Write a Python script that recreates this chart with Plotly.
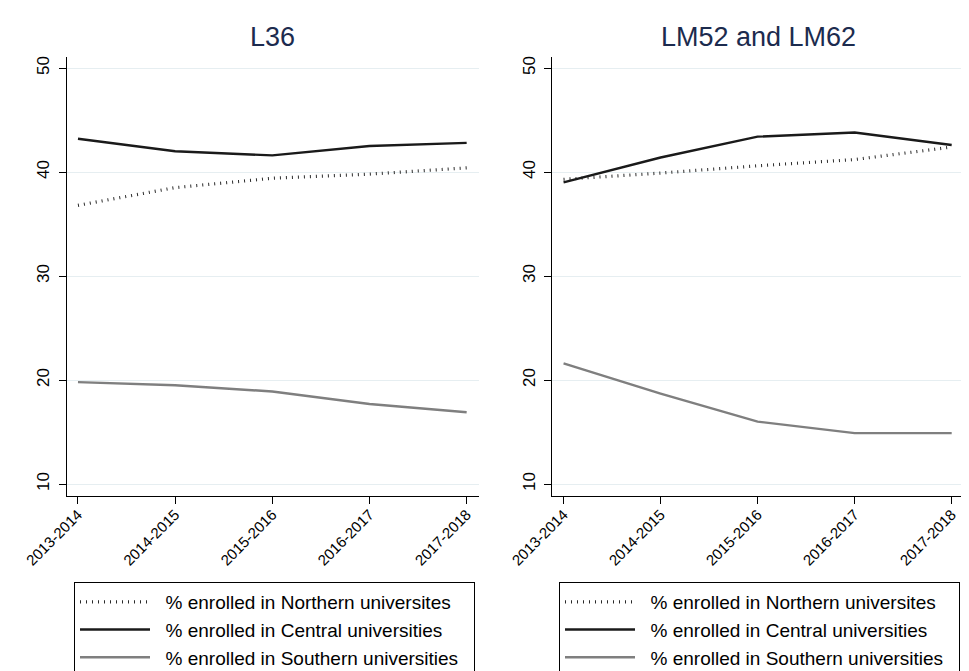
import plotly.graph_objects as go

years = ["2013-2014", "2014-2015", "2015-2016", "2016-2017", "2017-2018"]
panel_titles = ["L36", "LM52 and LM62"]
series_names = ["% enrolled in Northern universites",
                "% enrolled in Central universities",
                "% enrolled in Southern universities"]

l36_north = [36.8, 38.5, 39.4, 39.8, 40.4]
l36_central = [43.2, 42.0, 41.6, 42.5, 42.8]
l36_south = [19.8, 19.5, 18.9, 17.7, 16.9]

lm_north = [39.3, 39.9, 40.6, 41.2, 42.4]
lm_central = [39.0, 41.4, 43.4, 43.8, 42.6]
lm_south = [21.6, 18.7, 16.0, 14.9, 14.9]

y_ticks = [10, 20, 30, 40, 50]

FONT = "Liberation Sans, Arial, Helvetica, sans-serif"
styles = [dict(color="#2a2a2a", width=3.2, dash="1px,5px"),
          dict(color="#1a1a1a", width=2.4),
          dict(color="#7f7f7f", width=2.4)]

fig = go.Figure()
panels = [(l36_north, l36_central, l36_south), (lm_north, lm_central, lm_south)]
for p, data in enumerate(panels):
    xa = "x" if p == 0 else "x2"
    ya = "y" if p == 0 else "y2"
    lg = "legend" if p == 0 else "legend2"
    for s, vals in enumerate(data):
        fig.add_trace(go.Scatter(x=years, y=vals, mode="lines",
                                 name="\u00a0\u00a0" + series_names[s] + "\u00a0\u00a0",
                                 line=styles[s], xaxis=xa, yaxis=ya, legend=lg,
                                 showlegend=True))

# page body has an 8px margin: the figure is placed at (8, 8)
OFF = 8
W, H = 969 - OFF, 671 - OFF
ytop, ybot = 57 - OFF, 496 - OFF
xdoms = [(66.7 - OFF, 479 - OFF), (552.3 - OFF, 964 - OFF)]

def xaxis(dom, anchor):
    return dict(domain=[dom[0] / W, dom[1] / W], anchor=anchor, type="category",
                range=[-0.116, 4.127], showline=True, linecolor="#000000", linewidth=1,
                ticks="outside", ticklen=7, tickcolor="#000000", tickangle=-45,
                tickfont=dict(family=FONT, size=15, color="#000000"),
                ticklabelstandoff=-4,
                showgrid=False, zeroline=False, fixedrange=True, automargin=False)

def yaxis(anchor):
    return dict(domain=[1 - ybot / H, 1 - ytop / H], anchor=anchor,
                range=[8.85, 51.06], tickvals=y_ticks, showline=True, linecolor="#000000",
                linewidth=1, ticks="outside", ticklen=7, tickcolor="#000000", tickangle=-90,
                tickfont=dict(family=FONT, size=17, color="#000000"),
                ticklabelstandoff=3,
                showgrid=True, gridcolor="#e6eef1", gridwidth=1, zeroline=False,
                fixedrange=True, automargin=False)

legend_common = dict(bordercolor="#000000", borderwidth=1, bgcolor="#ffffff",
                     font=dict(family=FONT, size=19, color="#000000"),
                     xanchor="left", yanchor="top", itemwidth=70,
                     itemclick=False, itemdoubleclick=False)

fig.update_layout(
    width=W, height=H, margin=dict(l=0, r=0, t=0, b=0, autoexpand=False),
    paper_bgcolor="#ffffff", plot_bgcolor="#ffffff",
    xaxis=xaxis(xdoms[0], "y"), yaxis=yaxis("x"),
    xaxis2=xaxis(xdoms[1], "y2"), yaxis2=yaxis("x2"),
    legend=dict(x=(74 - OFF) / W, y=1 - (582 - OFF) / H, **legend_common),
    legend2=dict(x=(559 - OFF) / W, y=1 - (582 - OFF) / H, **legend_common),
    annotations=[
        dict(text=panel_titles[i], x=(xdoms[i][0] + xdoms[i][1]) / 2 / W, y=1 - (37 - OFF) / H,
             xref="paper", yref="paper", showarrow=False, xanchor="center", yanchor="middle",
             font=dict(family=FONT, size=27, color="#1c2b4e"))
        for i in range(2)
    ],
)

fig.write_html("out.html")
